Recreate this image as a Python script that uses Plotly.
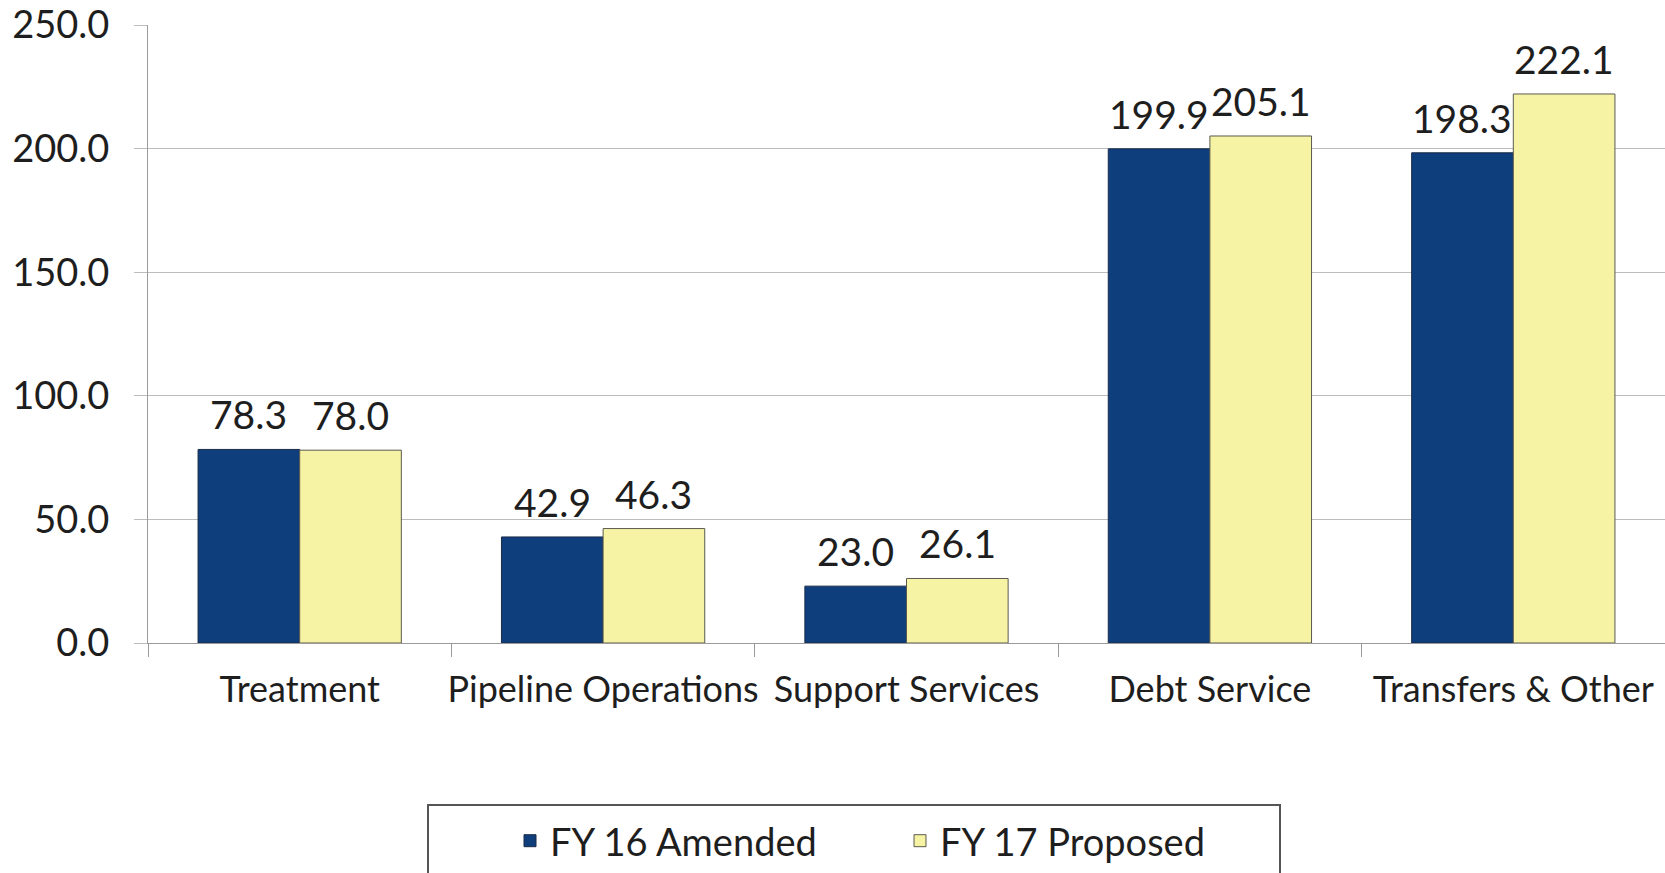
import plotly.graph_objects as go

categories = ["Treatment", "Pipeline Operations", "Support Services", "Debt Service", "Transfers & Other"]
fy16_amended = [78.3, 42.9, 23.0, 199.9, 198.3]
fy17_proposed = [78.0, 46.3, 26.1, 205.1, 222.1]
series_names = ["FY 16 Amended", "FY 17 Proposed"]
ytick_vals = [0, 50, 100, 150, 200, 250]
ytick_text = ["0.0", "50.0", "100.0", "150.0", "200.0", "250.0"]

BLUE = "#0F3E7D"
YELLOW = "#F7F3A4"
FONT = "Lato"
TXT = "#1e1e1e"

W, H = 1665, 873
L, T, B = 148, 25, 230
PW, PH = W - L, H - T - B

fig = go.Figure()
fig.add_trace(go.Bar(x=categories, y=fy16_amended, name=series_names[0],
                     marker=dict(color=BLUE, line=dict(color="#1b2b48", width=1))))
fig.add_trace(go.Bar(x=categories, y=fy17_proposed, name=series_names[1],
                     marker=dict(color=YELLOW, line=dict(color="#5a5a50", width=1))))

# data labels above each bar
half = PW / 5 * 0.67 / 4
for vals, sh in ((fy16_amended, -half), (fy17_proposed, half)):
    for c, v in zip(categories, vals):
        fig.add_annotation(x=c, y=v, text=f"{v:.1f}", showarrow=False,
                           xshift=sh, yshift=10, yanchor="bottom",
                           font=dict(family=FONT, size=39, color=TXT))

# legend frame (page px -> paper)
def px_x(p):
    return (p - L) / PW

def px_y(p):
    return (T + PH - p) / PH

fig.add_shape(type="rect", xref="paper", yref="paper",
              x0=px_x(428), x1=px_x(1280), y0=px_y(805), y1=px_y(920),
              line=dict(color="#555555", width=2), fillcolor="rgba(0,0,0,0)")

fig.update_layout(
    width=W, height=H,
    margin=dict(l=L, r=0, t=T, b=B, autoexpand=False),
    paper_bgcolor="white", plot_bgcolor="white",
    barmode="group", bargap=0.33, bargroupgap=0,
    font=dict(family=FONT, size=36, color=TXT),
    showlegend=True,
    legend=dict(orientation="h", x=px_x(510), xanchor="left",
                y=px_y(841), yanchor="middle",
                font=dict(family=FONT, size=38, color=TXT),
                entrywidth=345, bgcolor="rgba(0,0,0,0)", borderwidth=0),
    xaxis=dict(showgrid=False, showline=True, linecolor="#9a9a9a", linewidth=1,
               ticks="outside", tickson="boundaries", ticklen=13, tickcolor="#9a9a9a",
               ticklabelstandoff=15, tickangle=0, ticklabeloverflow="allow",
               tickfont=dict(family=FONT, size=36, color=TXT)),
    yaxis=dict(range=[0, 250], tickvals=ytick_vals, ticktext=ytick_text,
               showgrid=True, gridcolor="#bdbdbd", gridwidth=1,
               showline=True, linecolor="#9a9a9a", linewidth=1,
               ticks="outside", ticklen=13, tickcolor="#bdbdbd",
               ticklabelstandoff=17, zeroline=False, ticklabeloverflow="allow",
               tickfont=dict(family=FONT, size=38, color=TXT)),
)

fig.write_html("out.html", config={"displayModeBar": False},
               post_script="document.body.style.margin='0px';")
